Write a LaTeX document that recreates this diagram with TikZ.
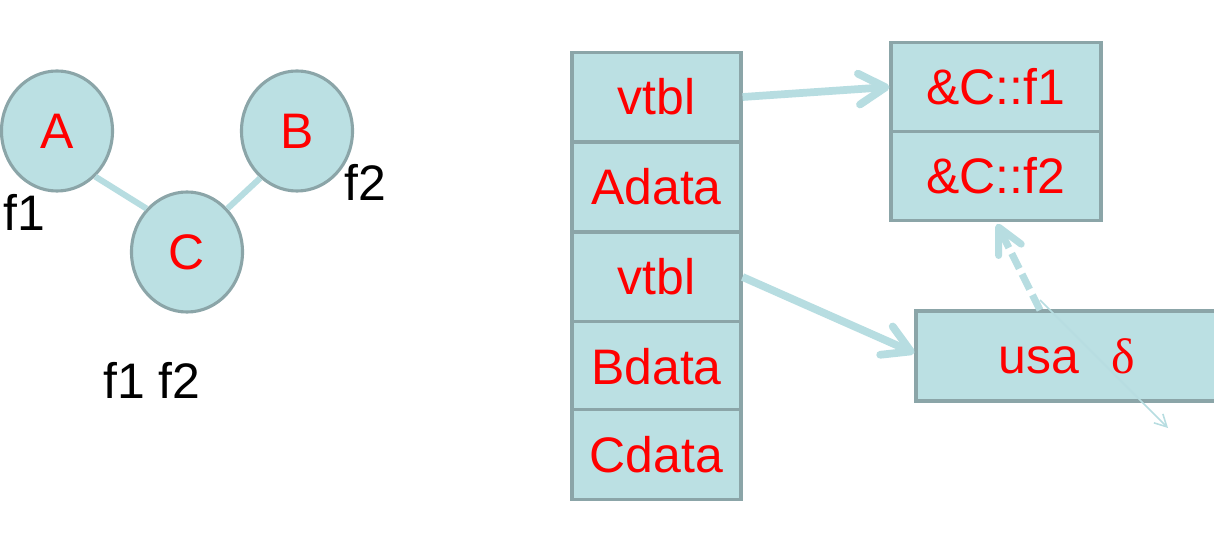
\documentclass[tikz,border=0pt]{standalone}
\usepackage{fontspec}
\setmainfont{Liberation Sans}
\newfontfamily\serifdelta{Liberation Serif}
\usetikzlibrary{shapes.geometric,arrows.meta}
\definecolor{boxfill}{HTML}{BBE0E3}
\definecolor{boxline}{HTML}{8BA5A8}
\definecolor{conn}{HTML}{B7DDE1}
\definecolor{txtred}{HTML}{FF0000}
\tikzset{
  big/.style={font=\fontsize{35.5}{40}\selectfont},
  cls/.style={ellipse, draw=boxline, fill=boxfill, line width=2.2pt, minimum width=2.775cm, minimum height=3.0cm, inner sep=0pt, text=txtred, big},
  cell/.style={rectangle, draw=boxline, fill=boxfill, line width=2.2pt, minimum width=4.225cm, minimum height=2.23cm, inner sep=0pt, text=txtred, big},
  vcell/.style={rectangle, draw=boxline, fill=boxfill, line width=2.2pt, minimum width=5.25cm, minimum height=2.2375cm, inner sep=0pt, text=txtred, big},
  lbl/.style={text=black, big, inner sep=0pt},
  link/.style={draw=conn, line width=4.3pt},
  ptr/.style={draw=conn, line width=5.5pt, -{Straight Barb[length=19pt,width=22pt,round]}},
  dptr/.style={draw=conn, line width=5pt, dash pattern=on 12pt off 4.5pt, -{Straight Barb[length=18pt,width=18pt,round]}},
  thin/.style={draw=conn, line width=1.1pt, -{Straight Barb[length=8.5pt,width=9pt]}}
}
\begin{document}
\begin{tikzpicture}[x=0.025cm,y=-0.025cm]
\clip (0,0) rectangle (1214,556);
\fill[white] (0,0) rectangle (1214,556);
% class graph
\node[cls] (A) at (57,131) {A};
\node[cls] (B) at (297,131) {B};
\node[cls] (C) at (187,252) {C};
\draw[link] (A.-50) -- (C.133);
\draw[link] (C.47) -- (B.-128);
\node[lbl] (lf1) at (24,212) {f1};
\node[lbl] (lf2) at (365,182) {f2};
\node[lbl] (lf12) at (152,380) {f1 f2};
% object layout
\node[cell] (v1) at (656.5,97) {vtbl};
\node[cell] (ad) at (656.5,187) {Adata};
\node[cell] (v2) at (656.5,277) {vtbl};
\node[cell] (bd) at (656.5,366.5) {Bdata};
\node[cell] (cd) at (656.5,454.5) {Cdata};
% vtable
\node[vcell] (f1) at (996,87) {\&C::f1};
\node[vcell] (f2) at (996,176) {\&C::f2};
% usa box
\node[rectangle, draw=boxline, fill=boxfill, line width=2.2pt, minimum width=7.55cm, minimum height=2.25cm, inner sep=0pt, text=txtred, big] (usa) at (1067,356) {usa\hspace{0.82cm}{\serifdelta δ}};
% pointers
\draw[ptr] (v1.east) -- (f1.west);
\draw[ptr] (v2.east) -- ([yshift=0.075cm]usa.west);
\coordinate (ds) at (1040,310);
\coordinate (dt) at (997,224);
\coordinate (ts) at (1040,300);
\coordinate (tt) at (1168,428);
\draw[dptr] (ds) -- (dt);
\draw[thin] (ts) -- (tt);
\end{tikzpicture}
\end{document}
